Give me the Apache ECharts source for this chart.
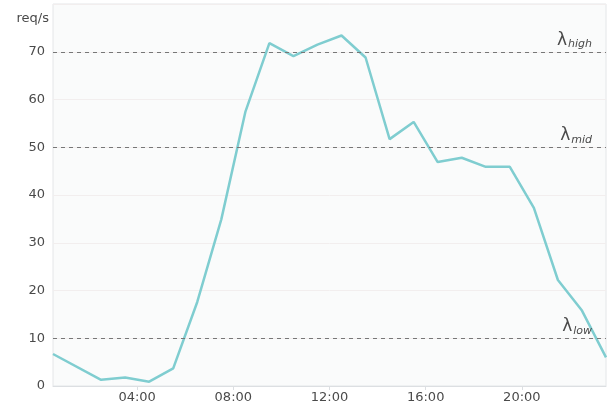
<!DOCTYPE html>
<html>
<head>
<meta charset="utf-8">
<script src="https://cdn.jsdelivr.net/npm/echarts@6/dist/echarts.min.js"></script>
<style>
  html, body { margin: 0; padding: 0; background: #fff; }
  #chart { width: 613px; height: 409px; }
</style>
</head>
<body>
<div id="chart"></div>
<script>
  // hours (half past), requests per second
  const hours = [0.5, 2.5, 3.5, 4.5, 5.5, 6.5, 7.5, 8.5, 9.5, 10.5, 11.5, 12.5, 13.5, 14.5, 15.5, 16.5, 17.5, 18.5, 19.5, 20.5, 21.5, 22.5, 23.5];
  const reqs = [6.7, 1.3, 1.8, 0.9, 3.7, 17.6, 34.9, 57.4, 71.8, 69.1, 71.5, 73.4, 68.8, 51.7, 55.3, 46.9, 47.8, 45.9, 45.9, 37.3, 22.2, 15.8, 6.0];
  const tickHours = [4, 8, 12, 16, 20];
  const thresholds = [70, 50, 10];
  const thresholdNames = ['high', 'mid', 'low'];

  const chart = echarts.init(document.getElementById('chart'));
  const txt = '#4a4a4a';

  const option = {
    animation: false,
    textStyle: { fontFamily: 'DejaVu Sans' },
    grid: {
      left: 53,
      right: 7,
      top: 4,
      bottom: 23,
      show: true,
      backgroundColor: '#fafbfb',
      borderColor: '#e4e6e8',
      borderWidth: 1
    },
    xAxis: {
      type: 'value',
      min: 0.5,
      max: 23.5,
      axisLine: { show: true, lineStyle: { color: '#dcdfe2' } },
      axisTick: { show: true, customValues: tickHours, length: 4, lineStyle: { color: '#dcdfe2' } },
      axisLabel: {
        customValues: tickHours,
        color: txt,
        fontSize: 13,
        margin: 5,
        formatter: (v) => String(v).padStart(2, '0') + ':00'
      },
      splitLine: { show: false }
    },
    yAxis: {
      type: 'value',
      min: 0,
      max: 80,
      interval: 10,
      name: 'req/s',
      nameLocation: 'end',
      nameGap: -21,
      nameTextStyle: { color: txt, fontSize: 13, align: 'right', padding: [0, 4, 0, 0] },
      axisLine: { show: false },
      axisTick: { show: false },
      axisLabel: {
        color: txt,
        fontSize: 13,
        margin: 8,
        formatter: (v) => (v >= 80 ? '' : v)
      },
      splitLine: { lineStyle: { color: '#f2eeee' } }
    },
    series: [
      {
        type: 'line',
        data: hours.map((h, i) => [h, reqs[i]]),
        symbol: 'none',
        lineStyle: { color: '#7fcdd0', width: 2.5 },
        markLine: {
          silent: true,
          symbol: 'none',
          lineStyle: { color: '#777', type: [4, 4], width: 1 },
          label: {
            position: 'insideEndTop',
            distance: [14, 2],
            formatter: (p) => '{l|λ}{s|' + thresholdNames[thresholds.indexOf(p.value)] + '}',
            rich: {
              l: { fontSize: 17, color: txt, fontFamily: 'DejaVu Sans' },
              s: { fontSize: 11, color: txt, fontStyle: 'italic', verticalAlign: 'bottom', padding: [8, 0, 0, 1], fontFamily: 'DejaVu Sans' }
            }
          },
          data: thresholds.map((t) => ({ yAxis: t }))
        }
      }
    ]
  };
  chart.setOption(option);
</script>
</body>
</html>
